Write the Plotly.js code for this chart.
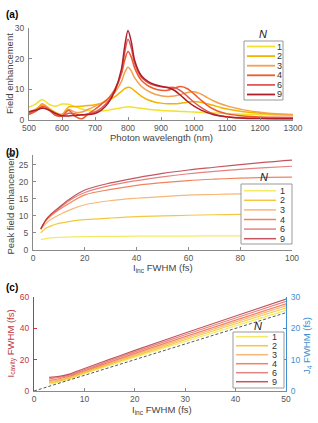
<!DOCTYPE html>
<html><head><meta charset="utf-8">
<script src="https://cdn.plot.ly/plotly-3.0.1.min.js"></script>
<style>html,body{margin:0;padding:0;background:#fff}#chart{width:318px;height:423px}</style>
</head><body><div id="chart"></div>
<script>
// ---------- data ----------
const seriesNames = ['1', '2', '3', '4', '6', '9'];
const seriesColors = ['#f0e22e', '#f2b400', '#f4a04c', '#ee5a2a', '#dc5a55', '#b01e2c'];

// panel (a): field enhancement vs photon wavelength (nm)
const wavelength = [500,520,540,560,580,600,620,640,660,680,700,720,740,760,780,790,800,810,820,840,860,880,900,920,940,960,980,1000,1020,1040,1060,1080,1100,1150,1200,1250,1300];
const feN1 = [4.2,5.2,6.7,5.2,4.5,5.2,5.1,4.3,3.6,3.1,2.8,2.9,3.2,3.6,4.0,4.2,4.3,4.25,4.1,3.8,3.5,3.3,3.1,3.0,2.9,2.8,2.7,2.6,2.5,2.4,2.3,2.2,2.1,1.9,1.75,1.6,1.5];
const feN2 = [2.6,3.5,5.0,3.8,2.5,1.9,4.3,4.4,4.5,4.7,5.0,5.5,6.3,7.6,9.3,10.2,10.7,10.4,9.5,7.8,6.6,5.9,5.5,5.3,5.3,5.5,5.8,6.0,5.8,5.3,4.7,4.1,3.6,2.7,2.2,1.9,1.7];
const feN3 = [2.0,3.0,5.3,3.8,1.8,1.5,3.5,2.5,2.6,3.5,4.5,5.5,7.0,9.0,12.5,15.5,17.2,16.0,13.8,11.0,9.5,8.5,7.9,7.7,7.8,8.3,9.0,9.2,8.5,7.3,6.2,5.3,4.6,3.3,2.5,2.0,1.8];
const feN4 = [1.8,2.8,4.5,3.5,1.5,1.3,3.2,1.2,0.4,2.0,3.5,5.2,7.0,10.0,15.0,19.5,22.3,20.5,17.0,13.0,11.2,10.2,9.7,9.7,10.4,10.9,10.2,8.5,6.6,4.8,3.5,2.6,2.0,1.3,1.0,0.9,0.8];
const feN6 = [2.3,3.0,4.0,3.2,1.6,1.3,2.2,2.0,1.6,2.0,2.6,4.0,6.0,9.5,15.5,22.0,26.3,23.5,18.5,14.0,12.2,11.3,10.8,10.6,10.6,9.5,7.7,5.8,4.2,2.9,2.0,1.4,1.1,0.7,0.6,0.5,0.5];
const feN9 = [2.7,3.2,3.8,3.3,2.2,1.4,1.3,1.5,1.7,1.8,2.1,3.3,5.5,9.5,16.5,24.0,29.2,25.5,19.5,14.5,12.6,11.6,11.0,10.6,9.7,8.0,6.1,4.5,3.3,2.4,1.7,1.3,1.0,0.6,0.5,0.4,0.4];

// panel (b): peak field enhancement vs I_inc FWHM (fs)
const incFwhmB = [3,4,5,7,10,15,20,30,40,50,60,70,80,90,100];
const peakN1 = [3.0,3.2,3.35,3.55,3.7,3.85,3.95,4.0,4.05,4.1,4.1,4.15,4.15,4.2,4.2];
const peakN2 = [5.0,5.8,6.4,7.1,7.8,8.5,8.9,9.4,9.8,10.0,10.2,10.35,10.45,10.55,10.6];
const peakN3 = [6.0,7.0,7.8,9.0,10.3,12.0,13.3,14.5,15.2,15.7,16.1,16.3,16.5,16.6,16.7];
const peakN4 = [6.2,7.5,8.6,10.1,11.8,14.2,16.2,17.8,19.0,19.8,20.4,20.8,21.1,21.3,21.4];
const peakN6 = [6.2,7.6,8.8,10.4,12.2,15.0,16.9,19.0,20.4,21.5,22.4,23.1,23.7,24.2,24.6];
const peakN9 = [6.2,7.6,8.9,10.6,12.5,15.4,17.6,19.7,21.2,22.5,23.5,24.3,25.1,25.8,26.4];

// panel (c): I_cavity FWHM vs I_inc FWHM (fs)
const incFwhmC = [3,5,7,10,15,20,30,40,50];
const cavN1 = [4.3,5.8,7.6,11.1,16.3,21.6,31.6,41.6,51.5];
const cavN2 = [5.2,6.5,8.2,11.7,17.0,22.4,32.7,42.9,53.0];
const cavN3 = [6.0,7.1,8.8,12.3,17.7,23.2,33.7,44.1,54.4];
const cavN4 = [6.8,7.8,9.4,12.9,18.4,24.0,34.7,45.2,55.6];
const cavN6 = [7.8,8.6,10.1,13.6,19.3,25.0,35.9,46.6,57.2];
const cavN9 = [8.7,9.3,10.8,14.4,20.2,25.9,37.0,47.9,58.7];
// dashed reference: J4 FWHM (right axis)
const refIncFwhm = [0, 50];
const refJ4Fwhm = [0, 25];

// ---------- build ----------
const W = 318, H = 423;
const px = v => v / W, py = v => 1 - v / H;
const FONT = 'Liberation Sans, Arial, sans-serif';
const TICKC = '#555';
const AXC = '#8a8a8a';
const RED = '#c0393f', BLUE = '#3f8fd2';

const feSets = [feN1, feN2, feN3, feN4, feN6, feN9];
const peakSets = [peakN1, peakN2, peakN3, peakN4, peakN6, peakN9];
const cavSets = [cavN1, cavN2, cavN3, cavN4, cavN6, cavN9];

const traces = [];
feSets.forEach((y, i) => traces.push({x: wavelength, y: y, xaxis: 'x', yaxis: 'y', type: 'scatter', mode: 'lines',
  line: {color: seriesColors[i], width: 1.5, shape: 'spline', smoothing: 0.8}, showlegend: false, hoverinfo: 'skip'}));
peakSets.forEach((y, i) => traces.push({x: incFwhmB, y: y, xaxis: 'x2', yaxis: 'y2', type: 'scatter', mode: 'lines',
  line: {color: seriesColors[i], width: 1.2, shape: 'spline'}, opacity: 0.75, showlegend: false, hoverinfo: 'skip'}));
cavSets.forEach((y, i) => traces.push({x: incFwhmC, y: y, xaxis: 'x3', yaxis: 'y3', type: 'scatter', mode: 'lines',
  line: {color: seriesColors[i], width: 1.2, shape: 'spline'}, opacity: 0.75, showlegend: false, hoverinfo: 'skip'}));
traces.push({x: refIncFwhm, y: refJ4Fwhm, xaxis: 'x3', yaxis: 'y4', type: 'scatter', mode: 'lines',
  line: {color: '#444', width: 0.9, dash: '3px,2px'}, showlegend: false, hoverinfo: 'skip'});

const baseAxis = {showgrid: false, zeroline: false, showline: true, linecolor: AXC, linewidth: 1,
  ticks: 'inside', ticklen: 3, tickcolor: AXC, tickfont: {family: FONT, size: 8.5, color: TICKC}, fixedrange: true};
const yStand = {ticklabelstandoff: 2};

const layout = {
  width: W, height: H, margin: {l: 0, r: 0, t: 0, b: 0}, paper_bgcolor: '#fff', plot_bgcolor: 'rgba(0,0,0,0)',
  font: {family: FONT}, showlegend: false,
  xaxis: Object.assign({}, baseAxis, {domain: [px(29), px(293)], anchor: 'y', range: [500, 1300], dtick: 100, tick0: 500}),
  yaxis: Object.assign({}, baseAxis, yStand, {domain: [py(120), py(28)], anchor: 'x', range: [0, 30], dtick: 10}),
  xaxis2: Object.assign({}, baseAxis, {domain: [px(33), px(292)], anchor: 'y2', range: [0, 100], dtick: 20}),
  yaxis2: Object.assign({}, baseAxis, yStand, {domain: [py(250), py(155)], anchor: 'x2', range: [0, 27.9], dtick: 5}),
  xaxis3: Object.assign({}, baseAxis, {domain: [px(34), px(286)], anchor: 'y3', range: [0, 50], dtick: 10}),
  yaxis3: Object.assign({}, baseAxis, yStand, {domain: [py(391), py(297)], anchor: 'x3', range: [0, 60], dtick: 20,
    linecolor: RED, tickcolor: RED, tickfont: {family: FONT, size: 8.5, color: RED}}),
  yaxis4: Object.assign({}, baseAxis, yStand, {overlaying: 'y3', side: 'right', anchor: 'x3', range: [0, 30], dtick: 10,
    linecolor: BLUE, tickcolor: BLUE, tickfont: {family: FONT, size: 8.5, color: BLUE}}),
  shapes: [], annotations: []
};

function ann(x, y, text, opts) {
  layout.annotations.push(Object.assign({xref: 'paper', yref: 'paper', x: px(x), y: py(y), text: text, showarrow: false,
    xanchor: 'center', yanchor: 'middle', font: {family: FONT, size: 9.5, color: '#444'}}, opts || {}));
}

// panel labels
ann(4, 14, '<b>(a)</b>', {xanchor: 'left', font: {family: FONT, size: 10, color: '#000'}});
ann(4, 152, '<b>(b)</b>', {xanchor: 'left', font: {family: FONT, size: 10, color: '#000'}});
ann(4, 287, '<b>(c)</b>', {xanchor: 'left', font: {family: FONT, size: 10, color: '#000'}});
// axis titles
ann(161, 137, 'Photon wavelength (nm)');
ann(9, 74, 'Field enhancement', {textangle: -90});
ann(163, 268, 'I<sub>inc</sub> FWHM (fs)');
ann(9.5, 204, 'Peak field enhancement', {textangle: -90});
ann(162, 410, 'I<sub>inc</sub> FWHM (fs)');
ann(10.5, 344, 'I<sub>cavity</sub> FWHM (fs)', {textangle: -90, font: {family: FONT, size: 9.5, color: RED}});
ann(307, 346, 'J<sub>4</sub> FWHM (fs)', {textangle: -90, font: {family: FONT, size: 9.5, color: BLUE}});

// custom legends
function legend(box, lineX, labelX, row0, dy, nY, nX, width, alpha) {
  layout.shapes.push({type: 'rect', xref: 'paper', yref: 'paper', layer: 'above',
    x0: px(box[0]), x1: px(box[1]), y0: py(box[3]), y1: py(box[2]), fillcolor: '#fff', line: {color: '#999', width: 1}});
  seriesNames.forEach((nm, i) => {
    const yy = row0 + i * dy;
    layout.shapes.push({type: 'line', xref: 'paper', yref: 'paper', layer: 'above', opacity: alpha,
      x0: px(lineX[0]), x1: px(lineX[1]), y0: py(yy), y1: py(yy), line: {color: seriesColors[i], width: width}});
    ann(labelX, yy, nm, {font: {family: FONT, size: 9, color: '#333'}});
  });
  ann(nX, nY, '<i>N</i>', {font: {family: FONT, size: 11, color: '#222'}});
}
legend([244, 283, 41, 100], [247, 275], 279.5, 46.5, 9.6, 33.5, 263, 1.8, 1);
legend([241, 292, 184, 244], [244, 276], 282, 190.7, 9.6, 177, 264, 1.5, 0.75);
legend([233, 284, 332, 388], [236, 268], 274, 336.7, 9.0, 325.5, 258, 1.5, 0.75);

Plotly.newPlot('chart', traces, layout, {staticPlot: true, displayModeBar: false});
</script></body></html>
